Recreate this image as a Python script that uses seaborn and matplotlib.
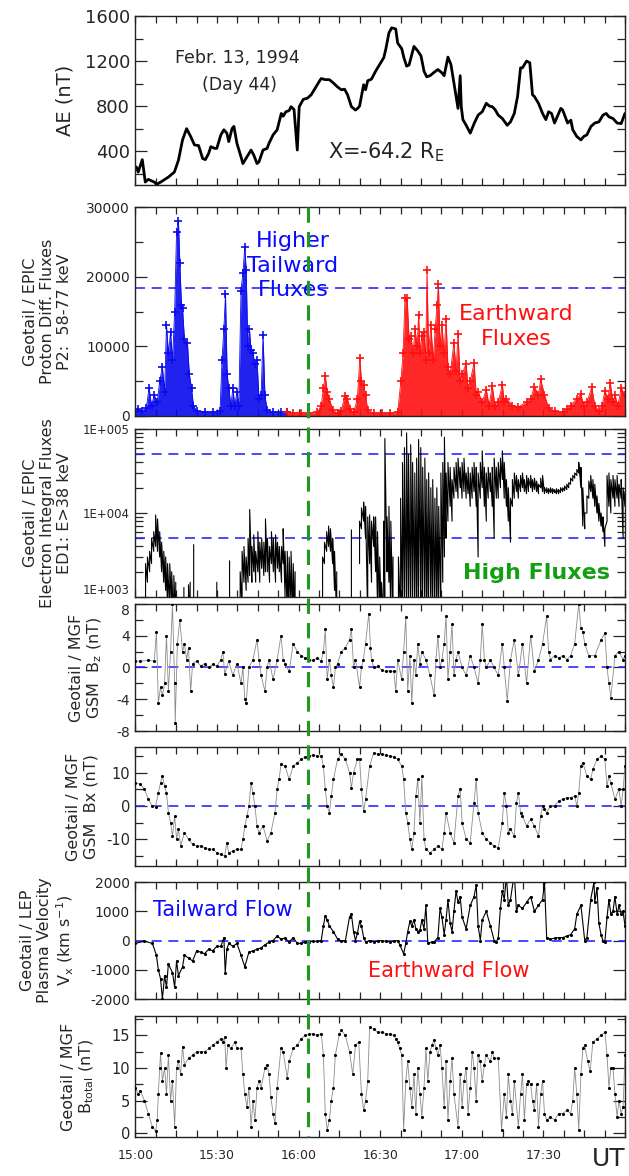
import numpy as np
import matplotlib
matplotlib.use("Agg")
import matplotlib.pyplot as plt
import matplotlib.ticker as mticker
from matplotlib.transforms import blended_transform_factory
import seaborn as sns

sns.set_theme(style="ticks")
plt.rcParams["font.family"] = ["DejaVu Sans"]
plt.rcParams["axes.unicode_minus"] = False
plt.rcParams["mathtext.default"] = "regular"

# ---- data (minutes after 15:00 UT) ----
time_ticks = [0, 30, 60, 90, 120, 150]
time_labels = ["15:00", "15:30", "16:00", "16:30", "17:00", "17:30"]
onset_time = 63.5

ae_t = [0.3, 1.0, 2.5, 3.6, 4.7, 7.0, 7.7, 9.2, 12.1, 14.3, 15.8, 17.3, 18.8, 20.3, 21.7,
        23.2, 24.7, 25.7, 26.9, 27.7, 29.1, 29.9, 31.4, 32.5, 33.6, 34.3, 35.5, 36.2, 37.3,
        38.8, 39.5, 41.0, 42.5, 43.5, 44.7, 45.4, 46.9, 48.4, 49.1, 50.6, 52.1, 53.6, 54.3,
        55.3, 56.5, 57.2, 58.3, 59.5, 60.2, 61.7, 63.2, 64.6, 66.1, 67.6, 68.3, 69.8, 71.3,
        72.8, 74.3, 75.7, 76.9, 78.0, 79.4, 80.9, 81.7, 82.4, 83.9, 84.6, 85.4, 86.8, 88.3,
        89.8, 91.3, 92.0, 93.2, 94.2, 95.7, 96.4, 97.9, 98.7, 99.7, 100.6, 102.4, 103.8,
        105.0, 106.1, 107.1, 108.3, 109.8, 111.2, 112.7, 113.5, 114.9, 116.0, 117.2, 118.6,
        119.4, 119.8, 120.4, 121.6, 123.1, 124.6, 126.0, 127.5, 129.0, 130.2, 131.2, 132.2,
        133.4, 134.9, 136.7, 137.9, 139.3, 140.5, 141.6, 142.3, 143.8, 145.0, 146.0, 146.7,
        148.2, 149.7, 150.9, 151.9, 153.0, 154.1, 156.4, 157.1, 158.9, 160.1, 160.8, 162.3,
        163.8, 164.8, 166.0, 167.5, 168.9, 170.4, 171.9, 173.1, 174.1, 175.6, 177.1, 178.6,
        180.0]
ae_v = [260, 215, 325, 126, 150, 125, 105, 125, 170, 215, 320, 500, 600, 530, 455,
        450, 335, 325, 380, 440, 425, 425, 545, 590, 560, 485, 600, 620, 470,
        350, 290, 350, 410, 365, 290, 305, 410, 425, 470, 545, 590, 735, 710,
        750, 760, 795, 770, 410, 795, 860, 870, 900, 960, 1020, 1045, 1035, 1035,
        1005, 970, 945, 950, 900, 795, 765, 780, 800, 990, 945, 1025, 1040, 1110,
        1170, 1230, 1300, 1450, 1495, 1485, 1360, 1310, 1230, 1155, 1165, 1330, 1290,
        1245, 1110, 1060, 1070, 1100, 1125, 1095, 1070, 1235, 1170, 990, 780,
        1070, 795, 680, 630, 560, 650, 720, 750, 825, 800, 795, 770,
        720, 690, 630, 660, 735, 885, 1140, 1140, 1200, 1185, 900, 885,
        825, 735, 680, 750, 735, 650, 780, 765, 650, 675, 590, 530,
        500, 530, 545, 620, 650, 660, 720, 735, 705, 690, 650, 645,
        735]

pro_level = 18400
pro_blue_t = [0, 1.0, 2.5, 4.0, 5.0, 5.9, 6.9, 8.0, 8.9, 9.9,
              10.7, 11.4, 12.1, 12.9, 13.6, 14.4, 15.1, 15.8, 16.3, 16.9,
              17.3, 18.0, 19.1, 19.8, 20.6, 21.3, 22.5, 25.4, 28.4, 31.1,
              31.8, 32.5, 33.1, 33.7, 34.3, 35.1, 35.8, 36.5, 37.3, 38.0,
              38.8, 39.5, 40.2, 40.7, 41.3, 41.9, 42.5, 43.2, 43.9, 44.7,
              45.4, 46.2, 46.9, 47.6, 48.4, 50.6, 53.5, 55.8]
pro_blue_v = [800, 1000, 700, 1200, 4000, 1500, 3000, 2000, 5000, 7000,
              3500, 13000, 9000, 12000, 8000, 15000, 26500, 28000, 22000, 16000,
              15500, 11000, 10500, 6000, 4000, 1500, 700, 600, 600, 700,
              8000, 12500, 17500, 6000, 4000, 1500, 4000, 1500, 3500, 1500,
              18000, 20500, 24300, 21000, 10000, 12500, 9500, 9000, 7500, 8000,
              2500, 3000, 11700, 3000, 800, 600, 600, 600]
pro_red_t = [55.8, 58.0, 60.9, 63.9, 66.9, 68.3, 69.1, 69.8, 70.5, 71.3,
             72.5, 74.3, 75.7, 76.9, 77.9, 79.0, 80.2, 81.6, 82.5, 83.1,
             83.9, 84.6, 85.4, 87.6, 90.5, 93.5, 96.4, 97.6, 98.4, 99.1,
             99.9, 100.6, 101.3, 102.1, 102.8, 103.6, 104.1, 104.7, 105.3, 106.1,
             106.7, 107.2, 107.8, 108.6, 109.5, 110.2, 110.9, 111.4, 112.0, 112.7,
             113.5, 114.2, 114.9, 115.7, 117.1, 117.9, 118.6, 119.4, 120.1, 121.6,
             122.3, 123.1, 124.5, 125.3, 126.0, 127.5, 129.0, 130.0, 131.2, 132.2,
             133.4, 134.9, 135.6, 136.4, 138.6, 140.8, 143.8, 145.3, 146.7, 148.2,
             149.0, 150.4, 151.9, 154.1, 157.1, 158.6, 160.0, 162.3, 163.8, 164.8,
             166.0, 167.8, 168.9, 170.4, 171.6, 172.6, 173.7, 174.6, 175.6, 176.3,
             177.4, 178.6, 180.0]
pro_red_v = [500, 400, 400, 400, 500, 1500, 4000, 5800, 3500, 2500,
             800, 400, 700, 2900, 2500, 1000, 500, 2500, 8300, 5000,
             4500, 3000, 800, 400, 400, 400, 500, 5000, 9000, 17000,
             17000, 11000, 11500, 9000, 12500, 10000, 14500, 9000, 11500, 12000,
             8000, 21000, 9000, 13000, 8000, 12500, 16000, 19000, 10000, 13000,
             9000, 14000, 7000, 6000, 10500, 6500, 11800, 5000, 6000, 7500,
             4000, 5000, 7600, 3000, 3500, 2000, 3800, 1500, 4300, 1500,
             2000, 4500, 2000, 2500, 1500, 1300, 2000, 2500, 4200, 3000,
             5300, 3000, 1200, 700, 600, 1000, 1500, 2500, 3100, 1500,
             2000, 4100, 1500, 700, 1500, 3600, 2500, 4700, 2000, 3000,
             1500, 4000, 3000]

ele_levels = [5e4, 5e3]
ele_t = [3.7, 4.4, 5.2, 5.9, 6.7, 7.4, 8.1, 8.9, 9.6, 10.4,
         11.1, 11.8, 12.6, 13.3, 14.1, 14.8, 16.0, 17.8, 18.6, 19.5,
         20.1, 20.7, 21.4, 22.0, 29.9, 30.5, 34.6, 35.2, 38.5, 39.2,
         39.9, 40.7, 41.4, 42.0, 42.8, 43.5, 44.2, 45.0, 45.7, 46.4,
         47.2, 47.8, 48.5, 49.3, 50.0, 50.7, 51.5, 52.2, 52.9, 53.7,
         54.3, 55.0, 55.8, 56.5, 57.2, 58.0, 58.7, 60.0, 68.8, 69.5,
         70.3, 71.0, 71.7, 72.5, 73.2, 74.0, 75.0, 79.4, 80.0, 82.4,
         83.1, 83.9, 84.6, 85.4, 86.1, 86.8, 87.6, 88.3, 89.0, 89.8,
         90.5, 91.3, 91.7, 92.5, 93.2, 93.9, 94.7, 95.5, 96.7, 97.5,
         98.2, 98.9, 99.7, 100.4, 101.2, 101.9, 102.7, 103.4, 104.1, 104.9,
         105.6, 106.4, 107.1, 107.8, 108.6, 109.3, 110.1, 110.8, 111.5, 112.3,
         113.0, 113.6, 114.2, 114.9, 115.7, 116.4, 117.1, 117.9, 118.6, 119.4,
         120.1, 120.8, 121.6, 122.3, 123.1, 123.8, 124.5, 125.3, 126.0, 126.8,
         127.5, 128.3, 129.0, 129.7, 130.5, 131.2, 131.9, 132.7, 133.4, 134.2,
         134.9, 135.6, 136.4, 137.1, 137.9, 138.6, 139.3, 140.1, 140.8, 141.6,
         142.3, 143.0, 143.8, 144.5, 145.3, 146.0, 146.7, 147.5, 148.2, 149.0,
         149.7, 150.4, 151.2, 151.9, 152.6, 153.4, 154.1, 154.8, 155.6, 156.3,
         157.1, 157.8, 158.6, 159.3, 160.0, 160.8, 161.5, 162.3, 163.0, 163.8,
         164.5, 165.2, 166.0, 166.7, 167.4, 168.2, 168.9, 169.7, 170.4, 171.2,
         171.9, 172.6, 173.4, 174.1, 174.8, 175.6, 176.3, 177.1, 177.8, 178.6,
         179.3, 180.0]
ele_lo = [500, 1500, 2000, 2500, 3500, 4000, 3500, 3000, 2000, 1500,
          1200, 800, 700, 800, 500, 500, None, 500, None, 500,
          500, None, 500, None, 500, None, 500, None, 500, 800,
          1500, 1200, 1500, 1800, 1500, 2000, 1500, 2000, 1500, 2200,
          1800, 2000, 2000, 1500, 2500, 2000, 1500, 2200, 2000, 1500,
          2500, 1000, 700, 500, 800, 500, 500, None, 1000, 2500,
          3500, 4000, 3500, 2500, 1200, 500, None, 500, None, 2500,
          6500, 8000, 5000, 500, 2500, 1500, 4000, 2000, 800, 500,
          500, 500, 500, 2000, 1500, 500, 500, None, 500, 500,
          600, 800, 500, 700, 500, 800, 600, 700, 500, 800,
          500, 700, 600, 500, 800, 600, 500, 800, 500, 700,
          1500, 3000, 5000, 8000, 12000, 8000, 15000, 18000, 15000, 20000,
          15000, 18000, 15000, 17000, 12000, 15000, 18000, 12000, 3000, 15000,
          20000, 12000, 8000, 15000, 18000, 12000, 5000, 15000, 15000, 20000,
          25000, 15000, 12000, 8000, 4500, 12000, 15000, 18000, 15000, 18000,
          20000, 18000, 17000, 18000, 20000, 18000, 19000, 18000, 17000, 20000,
          18000, 17000, 17500, 17000, 17500, 17000, 17500, 17000, 17000, 17500,
          18000, 18500, 19000, 20000, 22000, 24000, 26000, 28000, 30000, 20000,
          7000, 6500, 10000, 15000, 18000, 15000, 12000, 10000, 8000, 7000,
          6000, 4000, 8000, 12000, 10000, 15000, 12000, 15000, 12000, 15000,
          5000, 12000]
ele_hi = [2500, 3000, 3500, 5000, 6000, 9500, 8500, 6000, 4500, 3500,
          3000, 2500, 2500, 2000, 1800, 1500, None, 1300, None, 1400,
          1500, None, 4200, None, 1500, None, 2700, None, 2000, 3500,
          4000, 3000, 5000, 11000, 4000, 5500, 3500, 6000, 4500, 5000,
          4500, 8500, 5000, 4000, 6000, 5000, 5500, 4500, 4000, 4000,
          6500, 3500, 3500, 3000, 3500, 2500, 2000, None, 3000, 4500,
          6000, 7000, 6500, 5000, 3500, 2000, None, 6300, None, 8000,
          11500, 13500, 12000, 9000, 9500, 8000, 9000, 9000, 6000, 3000,
          1500, 8000, 77000, 9000, 12000, 8000, 3000, None, 3000, 15000,
          40000, 60000, 90000, 50000, 65000, 40000, 30000, 45000, 75000, 60000,
          35000, 45000, 25000, 30000, 20000, 25000, 15000, 20000, 12000, 30000,
          40000, 80000, 30000, 40000, 35000, 25000, 35000, 40000, 45000, 35000,
          40000, 45000, 30000, 35000, 30000, 35000, 40000, 35000, 30000, 40000,
          55000, 35000, 30000, 35000, 30000, 35000, 45000, 35000, 40000, 45000,
          55000, 40000, 25000, 20000, 15000, 25000, 30000, 28000, 25000, 28000,
          30000, 25000, 28000, 26000, 28000, 25000, 26000, 24000, 22000, 26000,
          28000, 20000, 20000, 19500, 20000, 19500, 19000, 19500, 19000, 20000,
          20000, 21000, 22000, 23000, 26000, 28000, 30000, 33000, 40000, 35000,
          20000, 10000, 16000, 24000, 28000, 25000, 22000, 16000, 13000, 10000,
          9000, 6500, 28000, 30000, 25000, 28000, 25000, 28000, 22000, 25000,
          20000, 18000]

bz_t = [0, 1.8, 4.7, 6.9, 7.7, 8.4, 9.2, 9.9, 10.7, 11.4,
        12.1, 12.9, 13.6, 14.4, 14.6, 15.4, 16.3, 17.3, 18.0, 18.8,
        19.5, 20.3, 21.0, 22.5, 24.0, 25.4, 26.9, 28.4, 29.9, 31.4,
        32.1, 32.8, 34.3, 35.8, 37.3, 38.8, 39.5, 40.2, 40.7, 41.7,
        43.2, 44.7, 45.4, 46.2, 47.6, 48.4, 49.1, 50.6, 52.1, 53.5,
        54.3, 55.0, 56.5, 58.0, 59.5, 60.9, 62.4, 63.9, 65.4, 66.9,
        68.3, 69.1, 69.8, 70.5, 71.3, 72.0, 72.8, 73.5, 74.3, 75.7,
        77.2, 78.7, 79.4, 80.2, 80.9, 82.4, 83.1, 83.8, 84.6, 85.8,
        86.4, 86.8, 87.6, 89.0, 90.5, 92.0, 93.5, 95.0, 95.7, 96.4,
        97.9, 98.6, 99.4, 100.1, 100.9, 101.6, 102.4, 103.1, 103.8, 104.6,
        105.3, 106.8, 108.3, 109.8, 110.5, 111.2, 112.0, 112.7, 113.5, 114.2,
        114.9, 115.7, 116.4, 117.1, 117.9, 118.6, 120.1, 121.6, 123.1, 124.5,
        126.0, 126.8, 127.5, 128.3, 129.0, 130.5, 131.9, 133.4, 134.9, 135.6,
        136.7, 137.9, 139.3, 140.8, 142.3, 143.8, 145.3, 146.7, 148.2, 149.7,
        151.2, 151.9, 152.6, 154.1, 155.6, 157.1, 158.6, 160.0, 161.5, 163.0,
        163.8, 164.5, 165.2, 166.7, 168.9, 171.2, 172.6, 173.4, 174.1, 174.8,
        176.3, 177.8, 179.3, 180.0]
bz_v = [0.8, 0.8, 0.9, 0.8, 4.5, -4.5, -2.5, -3.5, -2, 4,
        -3, 2, 8, -2, -7, 3, 6, 2, 3, 1,
        2.5, -3, 0.5, 0.8, 0.2, 0.5, 0, 0.4, 0.2, 1,
        2, -0.8, 0.8, -1, 0.5, -2, 0, -4, -4.5, 0,
        1, 3.5, 1, -1, -3, 0, 1, -1.5, 1, 4,
        1, 0.5, -0.5, 3, 2, 1.5, 1.2, 1.0, 0.9, 1.2,
        0.8, 2, 4.8, -1.5, 1, -1, -2.5, 0, 0.5, 2,
        2.5, 3.5, 4.8, 0, 1, -2.5, 0, 1, 3, 6.8,
        2.5, 1, 0, 0.2, -0.3, -0.5, -0.4, -0.5, -3, 1,
        -1.5, 2, 6.3, -3, 1.5, -4.5, 1, -1, 3, 0.5,
        2, 1, -1, -3.5, 1, 4, 0, 1, 3, 6.5,
        -1.5, 2, 5.5, -1, 1, 2, 0, -1, 1.5, 0,
        -2, 1, 5.5, 1, 0, 1, 0, -1, 3, 0,
        -4.2, 1, 3.5, -1, 3, -2, 4, -0.5, 1, 3,
        6.5, 2, 1, 1.5, 1.2, 1.5, 1, 1.5, 3, 8,
        5, 4.5, 3, 1.5, 1.5, 3.5, 4.3, 0, -2, -3.8,
        1.5, 2, 1, 1.5]

bx_t = [0, 1.8, 3.3, 4.7, 6.2, 7.4, 8.4, 9.2, 9.9, 10.7,
        11.4, 12.1, 12.9, 13.6, 14.4, 15.1, 15.8, 16.6, 18.0, 19.5,
        21.0, 22.5, 24.0, 25.4, 26.9, 28.4, 29.9, 31.4, 32.8, 33.6,
        34.3, 35.8, 37.3, 38.8, 39.5, 40.2, 41.0, 41.7, 42.5, 43.2,
        43.9, 44.7, 45.4, 46.9, 48.4, 49.8, 51.3, 52.1, 52.8, 53.5,
        55.0, 56.5, 58.0, 59.5, 60.9, 62.4, 63.9, 65.4, 66.9, 68.3,
        69.1, 69.8, 70.5, 71.3, 72.0, 72.8, 74.3, 75.7, 77.2, 78.7,
        79.4, 80.2, 81.6, 82.4, 83.1, 83.9, 84.6, 86.1, 87.6, 89.0,
        90.5, 92.0, 93.5, 95.0, 96.4, 97.9, 98.6, 99.4, 100.1, 100.9,
        101.6, 102.4, 103.1, 103.8, 104.6, 105.3, 106.1, 106.8, 108.3, 109.8,
        111.2, 112.7, 113.5, 114.2, 115.7, 117.1, 118.6, 119.4, 120.1, 121.6,
        123.1, 124.5, 125.3, 126.0, 127.5, 129.0, 130.5, 131.9, 133.4, 134.9,
        135.6, 136.4, 137.1, 137.9, 139.3, 140.1, 140.8, 141.6, 142.3, 143.8,
        145.3, 146.7, 148.2, 149.0, 149.7, 150.4, 151.2, 152.6, 154.1, 155.6,
        157.1, 158.6, 160.0, 161.5, 162.3, 163.0, 163.8, 164.5, 166.0, 167.4,
        168.2, 169.7, 171.2, 172.6, 173.4, 174.1, 174.8, 176.3, 177.8, 178.6,
        179.3, 180.0]
bx_v = [7, 6.5, 5, 2, 0, -0.2, 4, 7, 9, 6,
        4, -2, -5, -9, -3, -10, -7, -12, -8, -10,
        -11.5, -12, -12, -12.5, -13, -13, -14, -14.5, -15, -11,
        -14, -13.5, -13, -13, -10, -6, -3, 0, 7, 4,
        0, -6, -8, -6, -10.5, -8, -2, 5, 8, 12.5,
        12, 8, 12, 13, 14, 14.7, 15, 15.3, 15, 15,
        12, 5, 0, -2, 3, 8, 14, 15.5, 14, 10,
        5.5, 10, 14, 14.2, 5, -1.5, 2, 12, 16, 15.5,
        15.5, 15.3, 15, 14.8, 14, 12, 8, -2, -5, -10,
        -13, -8, 3, 8, -5, 9, -10, -13, -14, -13,
        -12, -13, -8, -2, -8, -11, 3, 5, -5, -10,
        -11, 1, 8, -2, -8, -10, -11, -12, -12.5, -5,
        4, 0, -8, -7, -9, 1, 4, -2, -3, -6,
        -4, -6, -9, -3, 0, -1, -2, 0, 0, 1.5,
        2, 2.5, 2.5, 3, 0, 4, 12, 13, 9, 8,
        11, 14, 15, 14, 6, 9, 7, 2, 5, 0,
        5, 12]

vx_t = [0, 3.3, 6.2, 7.7, 8.4, 9.2, 9.9, 10.7, 11.4, 12.1,
        13.6, 14.4, 15.1, 15.8, 17.3, 18.0, 19.5, 21.0, 22.5, 24.0,
        25.4, 26.9, 28.4, 29.9, 31.4, 32.5, 33.0, 33.6, 34.3, 35.8,
        37.3, 38.8, 40.2, 41.7, 43.2, 44.7, 46.2, 47.6, 49.1, 50.6,
        52.1, 53.5, 55.0, 56.5, 58.0, 59.5, 60.9, 62.4, 63.9, 65.4,
        66.9, 68.3, 69.1, 69.8, 70.5, 71.3, 72.8, 74.3, 75.7, 77.2,
        78.7, 79.4, 80.2, 80.9, 81.6, 82.4, 83.1, 83.9, 84.6, 86.1,
        87.6, 89.0, 90.5, 92.0, 93.5, 95.0, 96.4, 97.2, 98.6, 99.4,
        100.1, 100.9, 101.6, 102.4, 103.1, 103.8, 104.6, 105.3, 106.1, 106.8,
        107.5, 109.0, 109.8, 111.2, 112.0, 112.7, 113.5, 114.2, 114.9, 115.7,
        116.4, 117.1, 117.9, 118.6, 119.4, 120.1, 121.6, 123.1, 124.5, 125.3,
        126.0, 126.8, 127.5, 129.0, 130.5, 131.9, 132.7, 133.4, 134.2, 134.9,
        135.6, 136.4, 137.1, 137.9, 139.3, 140.1, 140.8, 142.3, 143.8, 145.3,
        146.7, 148.2, 149.7, 150.4, 151.2, 152.6, 154.1, 155.6, 157.1, 158.6,
        160.0, 161.5, 162.3, 163.8, 165.2, 166.0, 167.4, 168.6, 168.9, 169.7,
        170.4, 171.2, 171.9, 172.6, 173.4, 174.1, 174.8, 175.6, 176.3, 177.1,
        177.8, 178.6, 179.3, 180.0]
vx_v = [-100, -20, -100, -500, -1000, -1300, -2000, -1200, -1600, -800,
        -1100, -1600, -700, -1200, -900, -500, -600, -700, -350, -400,
        -450, -300, -350, -200, -200, 100, -1100, -300, -100, -200,
        -100, -500, -900, -400, -350, -300, -250, -150, -50, 0,
        150, 50, 80, -50, 100, -100, -100, -50, -50, -20,
        -30, 0, 500, 850, 700, 500, 300, 50, -20, 0,
        800, 900, 300, 0, 250, 650, 500, 100, -50, 0,
        -50, -20, 0, -30, -50, -20, 0, -150, -450, -100,
        300, 650, 500, 700, 400, 300, 350, 700, 400, 1200,
        -100, -50, -50, 100, 1100, 800, 200, 700, 1400, 600,
        300, 1000, 1700, 1300, 1500, 800, 400, 1200, 1500, 1900,
        500, 0, 700, 1000, 500, 0, -50, 100, 1100, 1700,
        1400, 2200, 1200, 1400, 2300, 1000, 1200, 1100, 1300, 1500,
        1000, 1200, 1400, 2000, 100, 50, 80, 100, 100, 150,
        200, 400, 900, 1200, 0, 100, 1400, 2000, 1300, 1800,
        600, 200, 0, -50, 800, 1400, 900, 1000, 1500, 900,
        1200, 900, 1000, 500]

bt_t = [0, 1.0, 1.8, 3.3, 4.7, 6.2, 7.4, 8.0, 8.4, 8.9,
        9.2, 9.9, 10.7, 11.4, 12.1, 12.9, 13.6, 14.4, 15.1, 15.8,
        16.6, 17.3, 18.0, 19.5, 21.0, 22.5, 24.0, 25.4, 26.9, 28.4,
        29.9, 31.4, 32.1, 32.8, 33.3, 34.0, 35.1, 36.5, 37.3, 38.8,
        39.5, 40.2, 41.0, 41.7, 42.5, 43.2, 43.9, 44.7, 45.4, 46.2,
        47.6, 48.4, 49.1, 49.8, 50.6, 51.3, 52.1, 53.5, 54.3, 55.8,
        56.5, 58.0, 59.5, 60.9, 62.4, 63.9, 65.4, 66.9, 68.3, 69.1,
        69.8, 70.5, 71.3, 72.0, 72.8, 73.5, 75.0, 75.7, 77.2, 78.7,
        79.9, 80.9, 82.1, 83.1, 83.9, 84.6, 85.4, 86.1, 87.6, 89.0,
        90.5, 92.0, 93.5, 95.0, 95.7, 96.4, 97.2, 97.9, 98.6, 99.4,
        100.1, 100.9, 101.6, 102.4, 103.1, 103.8, 104.6, 105.3, 106.1, 106.8,
        107.5, 108.3, 109.0, 109.8, 110.5, 111.2, 112.0, 112.7, 113.5, 114.2,
        114.9, 115.7, 116.4, 117.1, 118.6, 119.4, 120.1, 120.8, 121.6, 122.3,
        123.1, 123.8, 124.5, 125.3, 126.0, 126.8, 127.5, 128.3, 129.0, 130.5,
        131.2, 131.9, 133.4, 134.6, 135.6, 136.4, 137.1, 137.9, 138.6, 139.3,
        140.8, 141.6, 142.3, 143.0, 143.8, 144.5, 145.3, 146.0, 146.7, 147.5,
        148.2, 149.0, 149.7, 150.4, 151.2, 152.6, 154.1, 155.6, 157.1, 158.6,
        160.0, 160.8, 161.5, 162.3, 163.0, 163.8, 164.5, 165.2, 166.3, 167.2,
        168.2, 169.7, 171.2, 172.6, 173.4, 174.1, 174.8, 175.6, 176.3, 177.1,
        177.8, 178.6, 179.3, 180.0]
bt_v = [7, 6, 6.5, 5, 3, 1, 0.3, 2, 6, 10,
        12.3, 8, 10, 6, 12, 5, 8, 1, 10, 11,
        9, 13.3, 10.5, 11.5, 12, 12.5, 12.5, 12.5, 13, 13.5,
        14, 14.5, 14, 14.8, 10, 13.5, 13, 14, 13, 13,
        9, 6, 4, 7, 1, 5, 2, 7, 8, 7,
        10, 10.5, 9, 5.5, 3, 1.5, 7, 13, 12.5, 8.5,
        11, 13, 13.5, 14.5, 15, 15.2, 15.3, 15, 15.3, 12,
        3, 0.5, 2, 5, 7, 12, 15.3, 15.8, 15, 12.5,
        9, 13.5, 14, 6, 3.5, 5, 8, 16.3, 16, 15.5,
        15.5, 15.3, 15.2, 15, 14.5, 14, 13, 12, 0.5, 8,
        11, 7, 4, 9, 3, 10, 6, 2.5, 7, 13,
        8, 12.5, 13.5, 14.3, 13, 12, 13.5, 10, 4, 11,
        2, 8, 11.5, 6, 1, 9, 4, 8, 10, 3,
        7, 12.5, 10, 5, 12, 11, 8, 10.5, 12, 11,
        12.5, 11.5, 11.5, 0.5, 6, 2.5, 9, 5, 3, 8,
        1, 6, 9, 2, 7.5, 8, 7.5, 5, 3.5, 7.5,
        1, 6, 8, 3, 2, 2.5, 2, 3, 3, 3.5,
        3, 5, 10, 6, 0.5, 9, 13, 13.5, 11, 9.5,
        14, 14.5, 15, 15.5, 12, 7, 10, 10, 6, 2.5,
        5, 3, 4, 12]

# ---- layout ----
fig = plt.figure(figsize=(6.29, 11.76), dpi=100)
left, width = 0.2154, 0.7782
rects = [(0.8427, 0.1437), (0.6463, 0.1775), (0.4923, 0.1429), (0.3784, 0.1080),
         (0.2636, 0.1012), (0.1505, 0.0995), (0.0332, 0.1029)]
axes = [fig.add_axes([left, b, width, h]) for b, h in rects]
ax_ae, ax_p, ax_e, ax_bz, ax_bx, ax_vx, ax_bt = axes

blue_dash = dict(color="#2a2aff", lw=1.2, ls=(0, (6, 4)), zorder=1)
pro_blue, pro_red = "#0a0aee", "#ff1010"

# AE
sns.lineplot(x=ae_t, y=ae_v, ax=ax_ae, color="black", lw=2, estimator=None, sort=False)
ax_ae.set_ylim(100, 1600)
ax_ae.set_yticks([400, 800, 1200, 1600])
ax_ae.yaxis.set_minor_locator(mticker.MultipleLocator(200))
ax_ae.text(37.5, 1227, "Febr. 13, 1994", ha="center", va="center", fontsize=12.5)
ax_ae.text(38.2, 985, "(Day 44)", ha="center", va="center", fontsize=12.5)
ax_ae.text(70.8, 391, r"X=-64.2 R$_E$", ha="left", va="center", fontsize=15)

# proton fluxes
ax_p.fill_between(pro_blue_t, 0, pro_blue_v, color=pro_blue, alpha=0.9, lw=0)
ax_p.fill_between(pro_red_t, 0, pro_red_v, color=pro_red, alpha=0.9, lw=0)
for t, v, c in [(pro_blue_t, pro_blue_v, pro_blue), (pro_red_t, pro_red_v, pro_red)]:
    sns.lineplot(x=t, y=v, ax=ax_p, color=c, lw=0.6, marker="+", markersize=6,
                 markeredgewidth=1.2, markeredgecolor=c, estimator=None, sort=False)
ax_p.axhline(pro_level, **blue_dash)
ax_p.set_ylim(0, 30000)
ax_p.set_yticks([0, 10000, 20000, 30000])
ax_p.set_yticklabels(["0", "10000", "20000", "30000"])
ax_p.yaxis.set_minor_locator(mticker.MultipleLocator(5000))
ax_p.text(57.9, 21600, "Higher\nTailward\nFluxes", color="#0a0aff", ha="center",
          va="center", fontsize=16, linespacing=1.3)
ax_p.text(140, 12900, "Earthward\nFluxes", color="#ff1010", ha="center",
          va="center", fontsize=16, linespacing=1.3)

# electron fluxes (vertical strokes between low and high readings)
et = np.repeat(np.array(ele_t, dtype=float), 2)
ev = np.column_stack([np.array(ele_lo, dtype=float), np.array(ele_hi, dtype=float)]).ravel()
ax_e.plot(et, ev, color="black", lw=0.8)
for lev in ele_levels:
    ax_e.axhline(lev, **blue_dash)
ax_e.set_yscale("log")
ax_e.set_ylim(1e3, 1e5)
ax_e.yaxis.set_major_locator(mticker.FixedLocator([1e3, 1e4, 1e5]))
ax_e.yaxis.set_major_formatter(mticker.FixedFormatter(["1E+003", "1E+004", "1E+005"]))
ax_e.yaxis.set_minor_locator(mticker.LogLocator(base=10, subs=np.arange(2, 10)))
ax_e.yaxis.set_minor_formatter(mticker.NullFormatter())
ax_e.text(147.5, 1930, "High Fluxes", color="#12a012", ha="center", va="center",
          fontsize=16, fontweight="bold")

# magnetic field and velocity panels
def dotted(ax, t, v):
    sns.lineplot(x=t, y=v, ax=ax, color="#8c8c8c", lw=0.6, estimator=None, sort=False)
    sns.scatterplot(x=t, y=v, ax=ax, color="black", s=5, linewidth=0, zorder=3)

dotted(ax_bz, bz_t, bz_v)
ax_bz.axhline(0, **blue_dash)
ax_bz.set_ylim(-8, 8)
ax_bz.set_yticks([-8, -4, 0, 4, 8])
ax_bz.yaxis.set_minor_locator(mticker.MultipleLocator(2))

dotted(ax_bx, bx_t, bx_v)
ax_bx.axhline(0, **blue_dash)
ax_bx.set_ylim(-18, 17.7)
ax_bx.set_yticks([-10, 0, 10])
ax_bx.yaxis.set_minor_locator(mticker.MultipleLocator(5))

sns.lineplot(x=vx_t, y=vx_v, ax=ax_vx, color="black", lw=0.8, estimator=None, sort=False)
sns.scatterplot(x=vx_t, y=vx_v, ax=ax_vx, color="black", s=5, linewidth=0, zorder=3)
ax_vx.axhline(0, **blue_dash)
ax_vx.set_ylim(-2000, 2000)
ax_vx.set_yticks([-2000, -1000, 0, 1000, 2000])
ax_vx.text(32.0, 1030, "Tailward Flow", color="#0a0aff", ha="center", va="center", fontsize=15)
ax_vx.text(115.1, -1036, "Earthward Flow", color="#ff1010", ha="center", va="center", fontsize=15)

dotted(ax_bt, bt_t, bt_v)
ax_bt.set_ylim(-0.6, 18)
ax_bt.set_yticks([0, 5, 10, 15])
ax_bt.yaxis.set_minor_locator(mticker.MultipleLocator(2.5))

# ---- common axis styling ----
ylabels = ["AE (nT)",
           "Geotail / EPIC\nProton Diff. Fluxes\nP2:  58-77 keV",
           "Geotail / EPIC\nElectron Integral Fluxes\nED1: E>38 keV",
           "Geotail / MGF\nGSM  B$_z$ (nT)",
           "Geotail / MGF\nGSM  Bx (nT)",
           "Geotail / LEP\nPlasma Velocity\nV$_x$ (km s$^{-1}$)",
           "Geotail / MGF\nB$_{total}$ (nT)"]
label_x = [-0.125, -0.130, -0.130, -0.064, -0.076, -0.122, -0.080]
tick_size = [13, 10, 8.5, 10, 10.5, 10, 10.5]

for i, ax in enumerate(axes):
    ax.set_xlim(0, 180)
    ax.set_xticks(time_ticks)
    ax.xaxis.set_minor_locator(mticker.MultipleLocator(7.5))
    ax.set_xlabel("")
    ax.set_ylabel(ylabels[i], fontsize=14 if i == 0 else 11.5, linespacing=1.15)
    ax.yaxis.set_label_coords(label_x[i], 0.5)
    ax.tick_params(axis="x", which="both", direction="in", top=True, bottom=True,
                   length=5, width=0.9, labelbottom=(i == 6), labelsize=9, pad=9)
    ax.tick_params(axis="y", which="major", direction="in", left=True, right=True,
                   length=8.5, width=0.9, labelsize=tick_size[i], pad=4)
    ax.tick_params(axis="y", which="minor", direction="in", left=True, right=True,
                   length=6, width=0.9)
    for sp in ax.spines.values():
        sp.set_color("#222222")
        sp.set_linewidth(1.0)
    ax.set_facecolor("white")

ax_bt.set_xticklabels(time_labels)

# keep the stacked edge labels of the electron and Bz panels apart
fig.canvas.draw()
ax_e.get_yticklabels()[0].set_verticalalignment("bottom")
ax_bz.get_yticklabels()[-1].set_verticalalignment("top")

# substorm onset line across the lower six panels
trans = blended_transform_factory(ax_bt.transData, fig.transFigure)
ax_bt.plot([onset_time, onset_time], [1 - 207 / 1176, 1 - 1137 / 1176], transform=trans,
           color="#1f9a1f", lw=2.2, ls=(0, (5, 3)), clip_on=False, zorder=5)

fig.text(609 / 629, 1 - 1159 / 1176, "UT", ha="center", va="center", fontsize=18)

fig.savefig("out.png", dpi=100, facecolor="white")
